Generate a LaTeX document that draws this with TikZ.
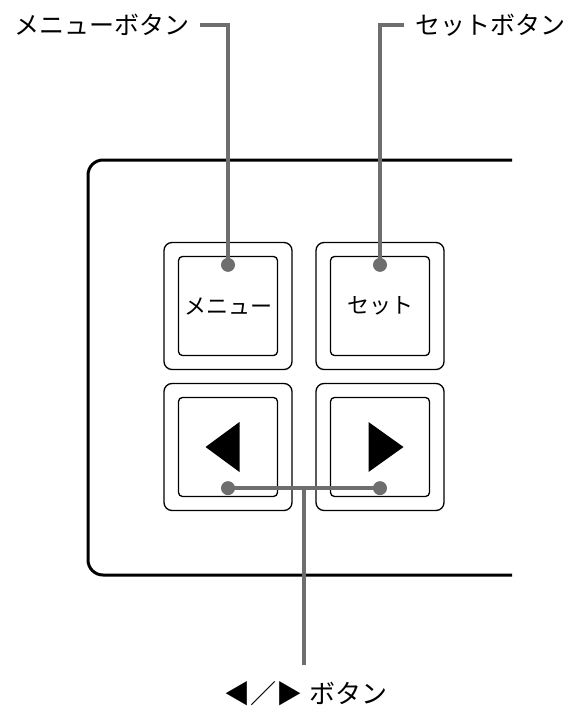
\documentclass[tikz,border=0pt]{standalone}
\usepackage{fontspec}
\setmainfont{Noto Sans CJK JP}
\usetikzlibrary{calc}
\definecolor{leadgray}{HTML}{6E6E6E}

\begin{document}
\begin{tikzpicture}[x=1pt, y=-1pt,
  panel/.style={line width=3pt, rounded corners=15pt},
  outerkey/.style={draw, line width=1.3pt, rounded corners=8pt, inner sep=0pt,
    minimum width=128pt, minimum height=127pt},
  innerkey/.style={draw, line width=1.3pt, rounded corners=4pt, inner sep=0pt,
    minimum width=99pt, minimum height=99pt},
  keytext/.style={font=\fontsize{22}{26}\selectfont, inner sep=0pt},
  calltext/.style={font=\fontsize{25}{30}\selectfont, inner sep=0pt},
  lead/.style={line width=4.5pt, draw=leadgray},
  dot/.style={circle, fill=leadgray, minimum size=14pt, inner sep=0pt}]
  \useasboundingbox (0,0) rectangle (573,709);

  % front panel, open to the right
  \draw [panel] (512,160) -- (88,160) -- (88,575) -- (512,575);

  % the four keys
  \foreach \name/\x/\y in {menu/228/306, set/380/306, left/228/447, right/380/447} {
    \node [outerkey] (\name-out) at (\x,\y) {};
    \node [innerkey] (\name-in) at (\x,\y) {};
  }
  \node [keytext] (menu-text) at (menu-in) {メニュー};
  \node [keytext] (set-text) at (set-in) {セット};
  \fill ([xshift=-22.5pt]left-in.center) -- ([xshift=11.5pt,yshift=25pt]left-in.center)
    -- ([xshift=11.5pt,yshift=-25pt]left-in.center) -- cycle;
  \fill ([xshift=23.5pt]right-in.center) -- ([xshift=-11.5pt,yshift=25pt]right-in.center)
    -- ([xshift=-11.5pt,yshift=-25pt]right-in.center) -- cycle;

  % callouts
  \node [dot] (menu-dot) at ([yshift=-9pt]menu-in.north) {};
  \node [dot] (set-dot) at ([yshift=-9pt]set-in.north) {};
  \node [dot] (left-dot) at ([yshift=9pt]left-in.south) {};
  \node [dot] (right-dot) at ([yshift=9pt]right-in.south) {};

  \node [calltext, anchor=east] (menu-label) at (190,25) {メニューボタン};
  \node [calltext, anchor=west] (set-label) at (415,25) {セットボタン};
  \node [calltext, font=\fontsize{26}{30}\selectfont] (arrow-label) at (306,694)
    {◀／▶\hspace{7pt}ボタン};

  \draw [lead] ([xshift=10pt]menu-label.east) -| (menu-dot.center);
  \draw [lead] (set-dot.center) |- ([xshift=-11pt]set-label.west);
  \draw [lead] (left-dot.center) -- (right-dot.center);
  \coordinate (lead-mid) at ($(left-dot.center)!.5!(right-dot.center)$);
  \draw [lead] (lead-mid) -- (lead-mid |- 0,665);

\end{tikzpicture}
\end{document}
